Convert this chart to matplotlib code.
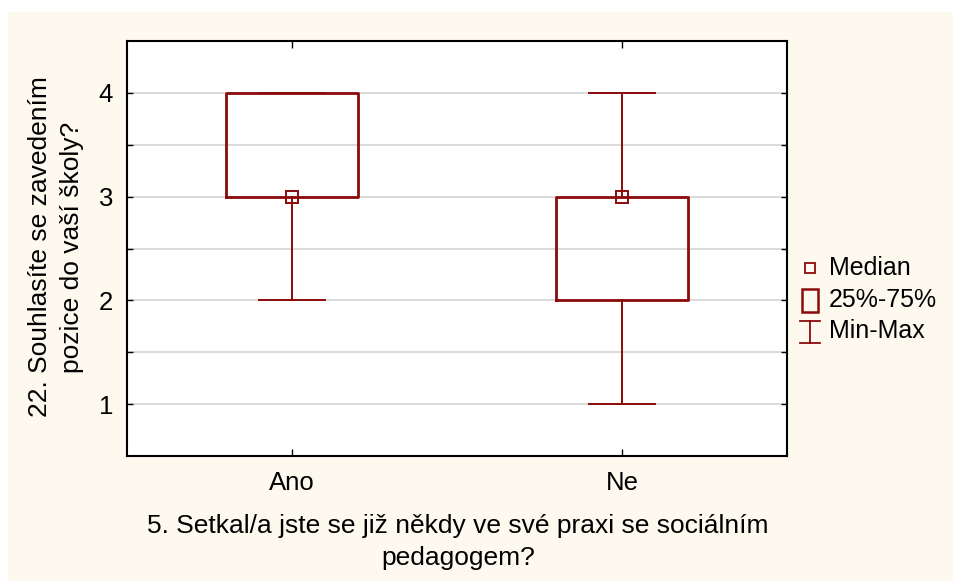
import matplotlib
matplotlib.use("Agg")
import matplotlib.pyplot as plt
from matplotlib.patches import Rectangle
import numpy as np

plt.rcParams['font.family'] = ['Liberation Sans', 'DejaVu Sans']

categories = ["Ano", "Ne"]
mins = [2, 1]
q1s = [3, 2]
medians = [3, 3]
q3s = [4, 3]
maxs = [4, 4]
yticks = [1, 2, 3, 4]
legend_labels = ["Median", "25%-75%", "Min-Max"]

xlabel = "5. Setkal/a jste se již někdy ve své praxi se sociálním\npedagogem?"
ylabel = "22. Souhlasíte se zavedením\npozice do vaší školy?"

RED = "#8B0A0A"
CREAM = "#FEF9EE"
FS_TICK = 18.5
FS_LAB = 19
FS_LEG = 18
W, H = 954, 581
fig = plt.figure(figsize=(W / 100, H / 100), dpi=100, facecolor="white")
fig.patches.append(Rectangle((8 / W, 0), 1 - 8 / W, (H - 12) / H,
                             transform=fig.transFigure, facecolor=CREAM,
                             edgecolor="none", zorder=-10))

ax = fig.add_axes([127 / W, 1 - 456 / H, (787 - 127) / W, (456 - 41) / H])
ax.set_facecolor("white")

stats = []
for c, lo, a, m, b, hi in zip(categories, mins, q1s, medians, q3s, maxs):
    stats.append(dict(label=c, whislo=lo, q1=a, med=m, q3=b, whishi=hi))
pos = np.arange(1, len(categories) + 1)
ax.bxp(stats, positions=pos, widths=0.4, capwidths=0.2, showfliers=False,
       boxprops=dict(color=RED, linewidth=2.0),
       whiskerprops=dict(color=RED, linewidth=1.4),
       capprops=dict(color=RED, linewidth=1.4),
       medianprops=dict(visible=False), zorder=3)
ax.plot(pos, medians, linestyle="none", marker="s", markersize=8,
        markerfacecolor="none", markeredgecolor=RED, markeredgewidth=1.4,
        zorder=4)

ax.set_xlim(0.5, 2.5)
ax.set_ylim(0.5, 4.5)
ax.set_xticks(pos)
ax.set_xticklabels(categories, fontsize=FS_TICK)
ax.set_yticks(yticks)
ax.set_yticklabels([str(t) for t in yticks], fontsize=FS_TICK)
ax.set_yticks(np.arange(1.5, 4.5, 1.0), minor=True)
ax.grid(True, axis="y", which="both", color="#D8D8D8", linewidth=1.3, zorder=0)
ax.set_axisbelow(True)
ax.tick_params(axis="both", which="both", direction="in", top=True, right=True,
               color="black", width=1.0)
ax.tick_params(axis="y", which="major", length=4, pad=10)
ax.tick_params(axis="y", which="minor", length=4)
ax.tick_params(axis="x", which="major", length=5, pad=11)
for s in ax.spines.values():
    s.set_linewidth(1.5)

fig.text(458 / W, 1 - 542 / H, xlabel, ha="center", va="center", fontsize=FS_LAB,
         linespacing=1.4)
fig.text(56 / W, 1 - 247 / H, ylabel, ha="center", va="center", fontsize=FS_LAB,
         rotation=90, linespacing=1.4)

# legend
lax = fig.add_axes([0, 0, 1, 1], facecolor="none")
lax.set_xlim(0, W)
lax.set_ylim(H, 0)
lax.axis("off")
lax.plot([810], [268], marker="s", markersize=7, markerfacecolor="none",
         markeredgecolor=RED, markeredgewidth=1.3, linestyle="none")
lax.add_patch(Rectangle((802, 289), 16, 23, facecolor="none", edgecolor=RED,
                        linewidth=1.8))
lax.plot([810, 810], [321, 343], color=RED, linewidth=1.3)
lax.plot([800, 820], [321, 321], color=RED, linewidth=1.3)
lax.plot([800, 820], [343, 343], color=RED, linewidth=1.3)
for lbl, y in zip(legend_labels, [268, 300, 331]):
    lax.text(829, y, lbl, ha="left", va="center", fontsize=FS_LEG)

fig.savefig("out.png", dpi=100, facecolor=fig.get_facecolor())
